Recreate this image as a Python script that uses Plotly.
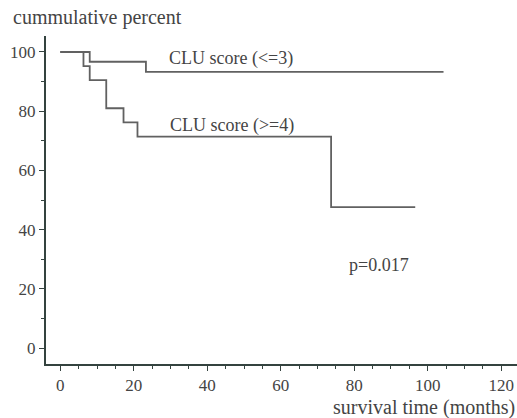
import plotly.graph_objects as go

# Kaplan-Meier step data (months, cumulative percent)
low_time = [0, 6.3, 8.0, 12.5, 17.2, 21.0, 73.7, 96.6]
low_surv = [100, 95.2, 90.5, 81.0, 76.2, 71.4, 47.6, 47.6]
high_time = [0, 8.0, 23.3, 104.3]
high_surv = [100, 96.7, 93.3, 93.3]

label_low = "CLU score (<=3)"
label_high = "CLU score (>=4)"
p_text = "p=0.017"
x_ticks = [0, 20, 40, 60, 80, 100, 120]
y_ticks = [0, 20, 40, 60, 80, 100]

FONT = "Liberation Serif, Times New Roman, serif"
TXT = "#444444"
LINE = "#616161"
AXIS = "#34433f"

fig = go.Figure()
fig.add_trace(go.Scatter(x=high_time, y=high_surv, mode="lines", line_shape="hv",
                         line=dict(color=LINE, width=1.8), name=label_low, showlegend=False))
fig.add_trace(go.Scatter(x=low_time, y=low_surv, mode="lines", line_shape="hv",
                         line=dict(color=LINE, width=1.8), name=label_high, showlegend=False))

fig.update_layout(
    width=517, height=418,
    margin=dict(l=46, r=0, t=36, b=54),
    paper_bgcolor="white", plot_bgcolor="white",
    font=dict(family=FONT, size=17, color=TXT),
    xaxis=dict(range=[-3.9, 124.3], tickvals=x_ticks, showgrid=False, zeroline=False,
               showline=True, linecolor=AXIS, linewidth=2, ticks="outside", ticklen=5,
               tickcolor=AXIS, tickwidth=1.2,
               minor=dict(dtick=5, ticks="outside", ticklen=3, tickcolor=AXIS, tickwidth=1),
               tickfont=dict(size=17, color=TXT)),
    yaxis=dict(range=[-5.4, 105.4], tickvals=y_ticks, showgrid=False, zeroline=False,
               showline=True, linecolor=AXIS, linewidth=2, ticks="outside", ticklen=5,
               tickcolor=AXIS, tickwidth=1.2,
               minor=dict(dtick=10, ticks="outside", ticklen=3, tickcolor=AXIS, tickwidth=1),
               tickfont=dict(size=17, color=TXT)),
    annotations=[
        dict(x=46.4, y=97.9, xref="x", yref="y", text=label_low, showarrow=False,
             font=dict(size=18, color=TXT)),
        dict(x=46.8, y=75.3, xref="x", yref="y", text=label_high, showarrow=False,
             font=dict(size=18, color=TXT)),
        dict(x=86.8, y=28.0, xref="x", yref="y", text=p_text, showarrow=False,
             font=dict(size=18, color=TXT)),
        dict(x=-0.074, y=1.055, xref="paper", yref="paper", text="cummulative percent",
             showarrow=False, xanchor="left", yanchor="middle", font=dict(size=20, color=TXT)),
        dict(x=1.0, y=-0.132, xref="paper", yref="paper", text="survival time (months)",
             showarrow=False, xanchor="right", yanchor="middle", font=dict(size=20, color=TXT)),
    ],
)

fig.write_html("out.html", config={"displayModeBar": False},
               post_script="document.body.style.margin='0px';document.body.style.overflow='hidden';")
